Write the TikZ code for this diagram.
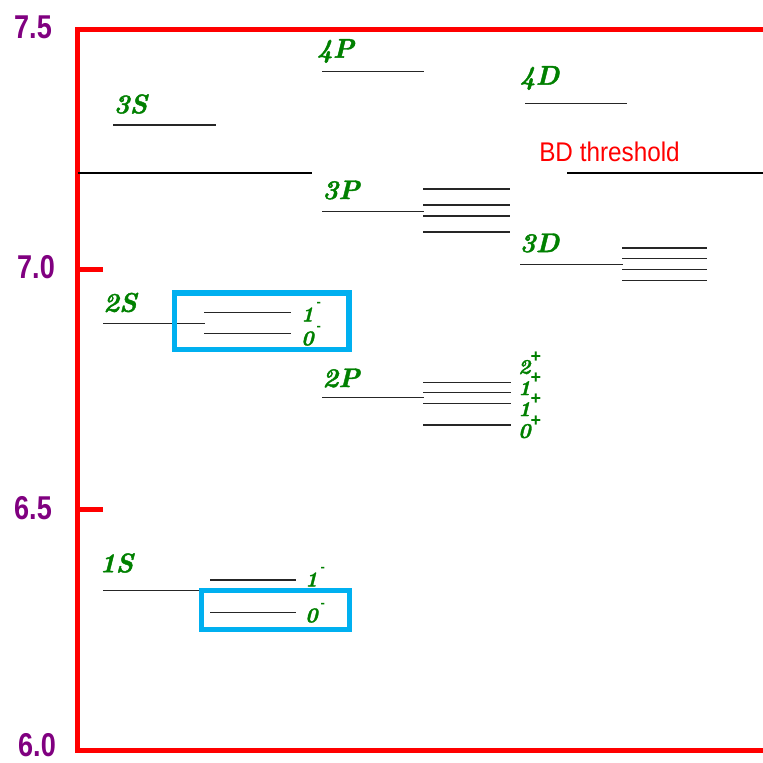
\documentclass[tikz,border=0pt]{standalone}
\usepackage{fontspec}
\usepackage{graphicx}
\newfontfamily\arialfont{Liberation Sans}
\newfontfamily\termfont{lmroman10-bolditalic}[Extension=.otf, FakeBold=1.6]
\definecolor{framered}{RGB}{255,0,0}
\definecolor{axispurple}{RGB}{128,0,128}
\definecolor{termgreen}{RGB}{0,128,0}
\definecolor{boxblue}{RGB}{0,176,240}
\newcommand\squeeze[2]{\scalebox{#1}[1]{#2}}
\tikzset{
  frameline/.style={draw=framered, line width=5pt, line join=miter},
  levelline/.style={draw=black!85, line width=1.2pt},
  thresholdline/.style={draw=black, line width=2pt},
  groupbox/.style={draw=boxblue, line width=5.5pt},
  axislabel/.style={text=axispurple, inner sep=0pt,
    font=\arialfont\bfseries\fontsize{33}{33}\selectfont},
  termlabel/.style={text=termgreen, inner sep=0pt,
    font=\termfont\fontsize{27}{27}\selectfont},
  jplabel/.style={text=termgreen, inner sep=0pt, anchor=west,
    font=\termfont\fontsize{21}{21}\selectfont},
  threshlabel/.style={text=framered, inner sep=0pt,
    font=\arialfont\fontsize{27}{27}\selectfont}
}
\newcommand\plus{\raisebox{0.55em}{\arialfont\bfseries\fontsize{18}{18}\selectfont +}}
\newcommand\minus{\hspace{3pt}\raisebox{0.7em}{\arialfont\bfseries\fontsize{13}{13}\selectfont -}}
\begin{document}
\begin{tikzpicture}[x=1pt,y=-1pt]
\useasboundingbox (0,0) rectangle (763,763);

% energy axis frame and ticks
\draw[frameline] (763,29.5) -- (77.5,29.5) -- (77.5,750) -- (763,750);
\draw[frameline] (77.5,269.6) -- (103,269.6);
\draw[frameline] (77.5,509.7) -- (103,509.7);
\node[axislabel] (y75) at (33,27)  {\squeeze{0.82}{7.5}};
\node[axislabel] (y70) at (36,267) {\squeeze{0.82}{7.0}};
\node[axislabel] (y65) at (33,508) {\squeeze{0.82}{6.5}};
\node[axislabel] (y60) at (37,745) {\squeeze{0.82}{6.0}};

% breakdown threshold
\draw[thresholdline] (78,172.7) -- (312,172.7);
\draw[thresholdline] (567,172.7) -- (763,172.7);
\node[threshlabel] (bd) at (609.5,152) {\squeeze{0.9}{BD threshold}};

% S states
\draw[levelline] (113,125) -- (216,125);
\node[termlabel] (s3) at (130.5,104) {3S};
\draw[levelline] (103,323.3) -- (205,323.3);
\draw[levelline] (204,312.7) -- (291,312.7);
\draw[levelline] (204,333.3) -- (291,333.3);
\node[termlabel] (s2) at (120,302.5) {2S};
\node[jplabel] (s2a) at (301,312) {1\minus};
\node[jplabel] (s2b) at (301,336) {0\minus};
\draw[groupbox] (174.5,293) rectangle (349,349.5);

\draw[levelline] (103,590.7) -- (200,590.7);
\draw[levelline] (210,580) -- (296,580);
\draw[levelline] (210,612.7) -- (296,612.7);
\node[termlabel] (s1) at (116.5,563) {1S};
\node[jplabel] (s1a) at (305,577) {1\minus};
\node[jplabel] (s1b) at (305,613) {0\minus};
\draw[groupbox] (201.5,590.5) rectangle (349.5,629.5);

% P states
\draw[levelline] (322,71.7) -- (424,71.7);
\node[termlabel] (p4) at (335.5,51) {4P};
\draw[levelline] (322,211.3) -- (424,211.3);
\foreach \yy in {189,205,216,232}
  \draw[levelline] (423,\yy) -- (510,\yy);
\node[termlabel] (p3) at (341,190) {3P};
\draw[levelline] (322,397.7) -- (424,397.7);
\foreach \yy in {382.3,392.7,403.3,425}
  \draw[levelline] (423,\yy) -- (511,\yy);
\node[termlabel] (p2) at (341,378) {2P};
\node[jplabel] (p2a) at (518,363) {2\plus};
\node[jplabel] (p2b) at (518,384) {1\plus};
\node[jplabel] (p2c) at (518,405) {1\plus};
\node[jplabel] (p2d) at (518,427) {0\plus};

% D states
\draw[levelline] (525,103.3) -- (627,103.3);
\node[termlabel] (d4) at (539.5,78) {4D};
\draw[levelline] (520,264.3) -- (623,264.3);
\foreach \yy in {248,258.7,269.3,280.7}
  \draw[levelline] (622,\yy) -- (707,\yy);
\node[termlabel] (d3) at (539.5,243) {3D};
\end{tikzpicture}
\end{document}
